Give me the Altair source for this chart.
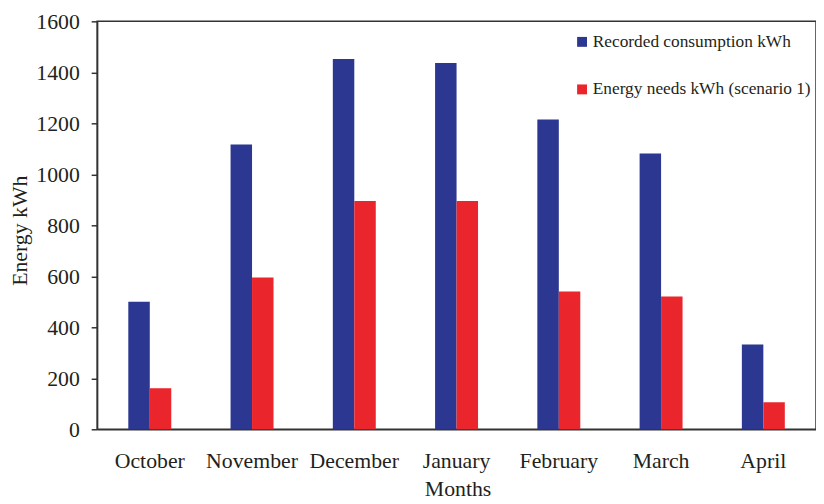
import altair as alt
import pandas as pd

months = ["October", "November", "December", "January", "February", "March", "April"]
series = ["Recorded consumption kWh", "Energy needs kWh (scenario 1)"]
recorded = [500, 1117, 1452, 1437, 1215, 1082, 333]
needs = [161, 595, 895, 895, 540, 521, 106]
colors = ["#2B3791", "#EA262C"]
y_ticks = [0, 200, 400, 600, 800, 1000, 1200, 1400, 1600]

rows = []
for m, r, n in zip(months, recorded, needs):
    rows.append({"month": m, "series": series[0], "value": r})
    rows.append({"month": m, "series": series[1], "value": n})
df = pd.DataFrame(rows)

FONT = "Liberation Serif"

chart = alt.Chart(df).mark_bar().encode(
    x=alt.X("month:N", sort=months,
            scale=alt.Scale(paddingInner=0.58, paddingOuter=0.305),
            axis=alt.Axis(title="Months", labelAngle=0, ticks=False, labelPadding=22,
                          titleX=364, titleY=67, titleBaseline="alphabetic",
                          titleAlign="center")),
    xOffset=alt.XOffset("series:N", sort=series),
    y=alt.Y("value:Q", scale=alt.Scale(domain=[0, 1600], nice=False),
            axis=alt.Axis(title="Energy kWh", values=y_ticks, grid=False, format="d",
                          tickSize=6, labelPadding=12,
                          titleAngle=-90, titleX=-78, titleY=211,
                          titleBaseline="middle", titleAlign="center")),
    color=alt.Color("series:N", sort=series,
                    scale=alt.Scale(domain=series, range=colors),
                    legend=alt.Legend(title=None, orient="none", legendX=481, legendY=12,
                                      symbolType="square", symbolSize=100,
                                      symbolStrokeWidth=0, labelOffset=2,
                                      rowPadding=29, padding=0,
                                      labelFont=FONT, labelFontSize=17.5,
                                      labelColor="#231F20", labelLimit=400)),
).properties(
    width=726, height=412,
    autosize=alt.AutoSizeParams(type="none"),
    padding={"left": 90, "top": 11, "right": 0, "bottom": 73},
).configure_view(
    stroke="#333333", strokeWidth=1.5
).configure_axis(
    labelFont=FONT, labelFontSize=22, labelColor="#231F20",
    titleFont=FONT, titleFontSize=22, titleColor="#231F20", titleFontWeight="normal",
    domainColor="#333333", domainWidth=1.5, tickColor="#333333", tickWidth=1.5,
)

chart.save("out.html", embed_options={"renderer": "svg", "actions": False})
